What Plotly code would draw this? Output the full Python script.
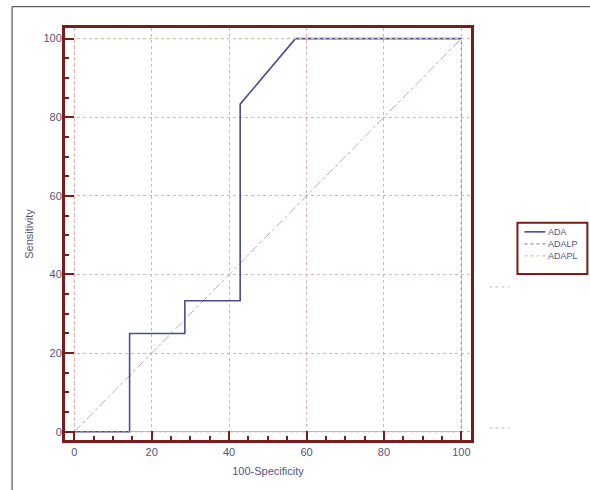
import plotly.graph_objects as go

# ROC data
ada_x = [0, 14.29, 14.29, 28.57, 28.57, 42.86, 42.86, 57.14, 100]
ada_y = [0, 0, 25, 25, 33.33, 33.33, 83.33, 100, 100]
adalp_x = [0, 100, 100]
adalp_y = [0, 0, 100]
adapl_x = [0, 0, 100]
adapl_y = [0, 100, 100]
diag_x = [0, 100]
diag_y = [0, 100]
tick_vals = [0, 20, 40, 60, 80, 100]
tick_text = ["0", "20", "40", "60", "80", "100"]
series_names = ["ADA", "ADALP", "ADAPL"]

maroon = "#7a1c1c"
txt = "#55557a"
font_family = "Liberation Sans, Arial"
series_colors = ["#4b4b96", "#b08a98", "#e2c2a0"]
series_dash = ["solid", "dot", "dot"]
series_width = [1.6, 1.2, 1.2]

fig = go.Figure()
fig.add_trace(go.Scatter(x=diag_x, y=diag_y, mode="lines", showlegend=False,
                         line=dict(color="#c8aab2", width=1, dash="dashdot"), hoverinfo="skip"))
for name, xs, ys, c, d, w in zip(series_names, [ada_x, adalp_x, adapl_x], [ada_y, adalp_y, adapl_y],
                                 series_colors, series_dash, series_width):
    fig.add_trace(go.Scatter(x=xs, y=ys, mode="lines", name=name, showlegend=False,
                             line=dict(color=c, width=w, dash=d)))

axis_common = dict(
    showline=True, linecolor=maroon, linewidth=3, mirror=True,
    ticks="inside", ticklen=9, tickwidth=2, tickcolor=maroon,
    tickvals=tick_vals, ticktext=tick_text,
    showgrid=True, gridcolor="#d6b4b8", griddash="dot", gridwidth=1,
    zeroline=False, automargin=False,
    tickfont=dict(family=font_family, size=11, color=txt),
    minor=dict(dtick=5, tick0=0, ticks="inside", ticklen=4, tickwidth=1.5,
               tickcolor=maroon, showgrid=False),
)

fig.update_xaxes(range=[-2.4, 102.5], title=dict(text="100-Specificity",
                 font=dict(family=font_family, size=11, color=txt), standoff=11),
                 **axis_common)
fig.update_yaxes(range=[-2.1, 102.7], ticklabelstandoff=-2,
                 title=dict(text="Sensitivity",
                            font=dict(family=font_family, size=11, color=txt), standoff=8),
                 **axis_common)

shapes = [
    dict(type="path", xref="paper", yref="paper",
         path="M -0.1304 -0.13 L -0.1304 1.0517 L 1.3 1.0517",
         line=dict(color="#333333", width=1)),
    dict(type="line", xref="paper", yref="paper", x0=1.0455, x1=1.0947,
         y0=0.3716, y1=0.3716, line=dict(color="#bbbbbb", width=1, dash="dot")),
    dict(type="line", xref="paper", yref="paper", x0=1.0455, x1=1.0947,
         y0=0.0291, y1=0.0291, line=dict(color="#bbbbbb", width=1, dash="dot")),
    # legend box
    dict(type="rect", xref="paper", yref="paper",
         x0=(518 - 65) / 406.5, x1=(588 - 65) / 406.5,
         y0=(440 - 274) / 411.7, y1=(440 - 223) / 411.7,
         line=dict(color=maroon, width=2), fillcolor="white", layer="above"),
]
annotations = []
for i, (name, c, d, w) in enumerate(zip(series_names, series_colors, series_dash, series_width)):
    ypx = 232 + i * 12
    yp = (440 - ypx) / 411.7
    shapes.append(dict(type="line", xref="paper", yref="paper",
                       x0=(525 - 65) / 406.5, x1=(546 - 65) / 406.5, y0=yp, y1=yp,
                       line=dict(color=c, width=w, dash=d), layer="above"))
    annotations.append(dict(xref="paper", yref="paper", x=(548 - 65) / 406.5, y=yp,
                            xanchor="left", yanchor="middle", showarrow=False, text=name,
                            borderpad=0,
                            font=dict(family=font_family, size=9, color=txt)))

fig.update_layout(
    width=590, height=490,
    margin=dict(l=65, r=119, t=28, b=50, autoexpand=False),
    paper_bgcolor="white", plot_bgcolor="white",
    showlegend=False,
    shapes=shapes,
    annotations=annotations,
)

fig.write_html("out.html", config={"displayModeBar": False},
               post_script="document.body.style.margin='0';")
